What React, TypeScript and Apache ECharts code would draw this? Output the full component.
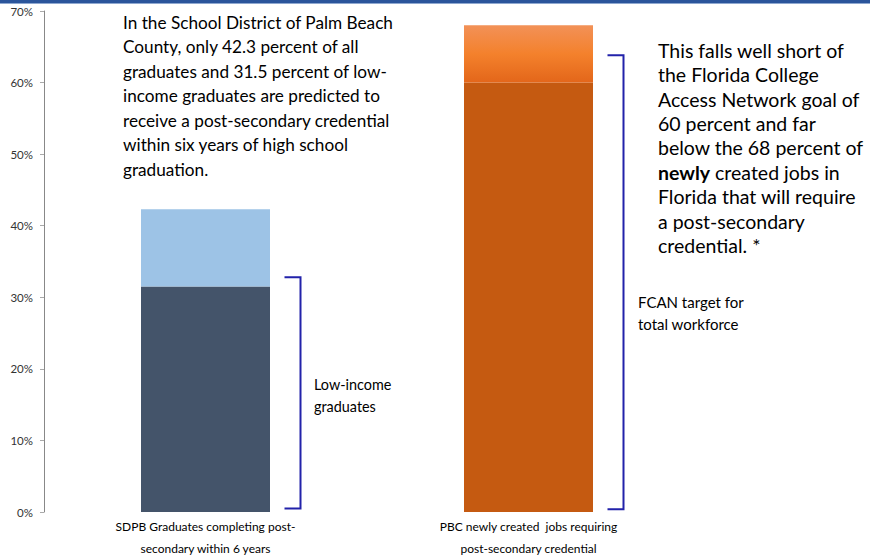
import React, { useEffect, useRef } from "react";
import * as echarts from "echarts";

const categories = [
  "SDPB Graduates completing post-\nsecondary within 6 years",
  "PBC newly created  jobs requiring\npost-secondary credential",
];
const baseValues = [31.5, 60];
const totalValues = [42.3, 68];
const yTicks = [0, 10, 20, 30, 40, 50, 60, 70];
// brackets: [category index, low, high]
const brackets = [
  [0, 0.5, 32.8],
  [1, 0.4, 63.8],
];

const FONT = "Lato, 'Open Sans', sans-serif";

export default function App() {
  const ref = useRef<HTMLDivElement>(null);
  useEffect(() => {
    if (!ref.current) return;
    const chart = echarts.init(ref.current, null, { renderer: "svg" });
    const topValues = totalValues.map((t, i) => +(t - baseValues[i]).toFixed(1));
    chart.setOption({
      animation: false,
      grid: { left: 44, right: 180, top: 11, bottom: 47, containLabel: false },
      xAxis: {
        type: "category",
        data: categories,
        axisLine: { show: false },
        axisTick: { show: false },
        axisLabel: {
          color: "#000",
          fontSize: 12,
          fontFamily: FONT,
          lineHeight: 22,
          margin: 3,
          interval: 0,
        },
      },
      yAxis: {
        type: "value",
        min: yTicks[0],
        max: yTicks[yTicks.length - 1],
        interval: 10,
        axisLine: { show: true, lineStyle: { color: "#888", width: 1 } },
        axisTick: { show: true, length: 4, lineStyle: { color: "#aaa" } },
        splitLine: { show: false },
        axisLabel: {
          formatter: "{value}%",
          color: "#333",
          fontSize: 11.5,
          fontFamily: FONT,
          margin: 11,
        },
      },
      series: [
        {
          type: "bar",
          stack: "s",
          barWidth: 129,
          data: baseValues.map((v, i) => ({
            value: v,
            itemStyle: { color: i === 0 ? "#44546a" : "#c55a11" },
          })),
        },
        {
          type: "bar",
          stack: "s",
          barWidth: 129,
          data: topValues.map((v, i) => ({
            value: v,
            itemStyle: {
              color:
                i === 0
                  ? "#9dc3e6"
                  : new echarts.graphic.LinearGradient(0, 0, 0, 1, [
                      { offset: 0, color: "#f29157" },
                      { offset: 0.5, color: "#f4812c" },
                      { offset: 1, color: "#e3661a" },
                    ]),
            },
          })),
        },
        {
          type: "custom",
          data: brackets,
          z: 5,
          renderItem: (params: any, api: any) => {
            const top = api.coord([api.value(0), api.value(2)]);
            const bot = api.coord([api.value(0), api.value(1)]);
            const x = top[0] + 95;
            return {
              type: "polyline",
              shape: {
                points: [
                  [x - 16, top[1]],
                  [x, top[1]],
                  [x, bot[1]],
                  [x - 16, bot[1]],
                ],
              },
              style: { stroke: "#2222aa", lineWidth: 2, fill: "none" },
            };
          },
        },
      ],
      graphic: [
        { type: "rect", shape: { x: 0, y: 0, width: 870, height: 3 }, style: { fill: "#2b559b" } },
        { type: "rect", shape: { x: 0, y: 3, width: 870, height: 1 }, style: { fill: "#8fa8d0" } },
        {
          type: "text",
          x: 123,
          y: 10,
          style: {
            text:
              "In the School District of Palm Beach\nCounty, only 42.3 percent of all\ngraduates and 31.5 percent of low-\nincome graduates are predicted to\nreceive a post-secondary credential\nwithin six years of high school\ngraduation.",
            font: `17.2px ${FONT}`,
            lineHeight: 24.5,
            fill: "#000",
          },
        },
        {
          type: "text",
          x: 658,
          y: 38,
          style: {
            text:
              "{n|This falls well short of}\n{n|the Florida College}\n{n|Access Network goal of}\n{n|60 percent and far}\n{n|below the 68 percent of}\n{b|newly}{n| created jobs in}\n{n|Florida that will require}\n{n|a post-secondary}\n{n|credential. *}",
            rich: {
              n: { fontSize: 19.5, fontFamily: FONT, lineHeight: 24.4, color: "#000" },
              b: { fontSize: 19.5, fontFamily: FONT, fontWeight: "bold", lineHeight: 24.4, color: "#000" },
            },
          },
        },
        {
          type: "text",
          x: 314,
          y: 373,
          style: {
            text: "Low-income\ngraduates",
            font: `14.4px ${FONT}`,
            lineHeight: 22,
            fill: "#000",
          },
        },
        {
          type: "text",
          x: 638,
          y: 291,
          style: {
            text: "FCAN target for\ntotal workforce",
            font: `15px ${FONT}`,
            lineHeight: 22,
            fill: "#000",
          },
        },
      ],
    });
    return () => chart.dispose();
  }, []);
  return (
    <div
      ref={ref}
      style={{ position: "fixed", left: 0, top: 0, width: 870, height: 559, background: "#fff" }}
    />
  );
}
